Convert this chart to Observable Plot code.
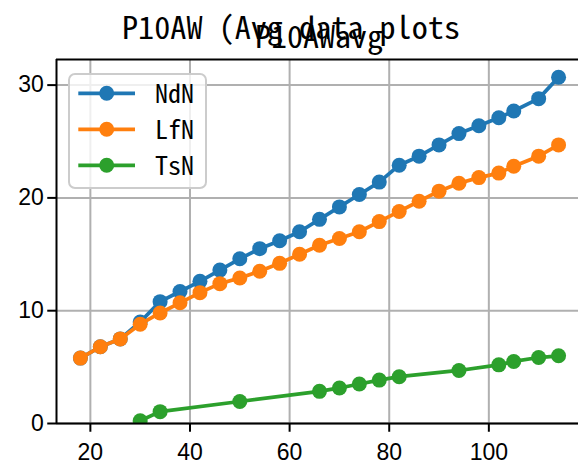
<!DOCTYPE html>
<html>
<head>
<meta charset="utf-8">
<script src="https://cdn.jsdelivr.net/npm/d3@7"></script>
<script src="https://cdn.jsdelivr.net/npm/@observablehq/plot@0.6"></script>
<style>
  html, body { margin: 0; padding: 0; background: #fff; overflow: hidden; }
  #wrap { position: relative; width: 578px; height: 465px; }
  svg { display: block; }
</style>
</head>
<body>
<div id="wrap">
  <svg id="titles" width="578" height="56"></svg>
  <div id="chart"></div>
</div>
<script>
const supTitle = "P10AW (Avg data plots";
const axTitle = "P10AWavg";
const seriesNames = ["NdN", "LfN", "TsN"];
const seriesColors = ["#1f77b4", "#ff7f0e", "#2ca02c"];

const xNdN = [18,22,26,30,34,38,42,46,50,54,58,62,66,70,74,78,82,86,90,94,98,102,105,110,114];
const yNdN = [5.8,6.8,7.5,9.0,10.8,11.7,12.6,13.6,14.6,15.5,16.2,17.0,18.1,19.2,20.3,21.4,22.9,23.7,24.7,25.7,26.4,27.1,27.7,28.8,30.7];
const xLfN = [18,22,26,30,34,38,42,46,50,54,58,62,66,70,74,78,82,86,90,94,98,102,105,110,114];
const yLfN = [5.8,6.8,7.5,8.8,9.8,10.7,11.6,12.4,12.9,13.5,14.2,15.0,15.8,16.4,17.0,17.9,18.8,19.7,20.6,21.3,21.8,22.2,22.8,23.7,24.7];
const xTsN = [30,34,50,66,70,74,78,82,94,102,105,110,114];
const yTsN = [0.25,1.05,1.95,2.85,3.15,3.5,3.85,4.15,4.7,5.2,5.5,5.85,6.0];

const xTicks = [20,40,60,80,100];
const yTicks = [0,10,20,30];
const xDomain = [13.2, 118];
const yDomain = [0, 32.27];

const font = '"Noto Sans Mono CJK SC", "Noto Sans CJK SC", "DejaVu Sans Mono", monospace';
const tickFont = '"Liberation Sans", Arial, sans-serif';

const xs = [xNdN, xLfN, xTsN];
const ys = [yNdN, yLfN, yTsN];
const series = seriesNames.map((name, i) => ({
  name, color: seriesColors[i],
  data: xs[i].map((x, j) => ({x, y: ys[i][j]}))
}));

// titles (figure suptitle + axes title, overlapping as in the reference)
const ts = d3.select("#titles").attr("font-family", font).attr("fill", "#000");
ts.append("text").attr("x", 291).attr("y", 39).attr("text-anchor", "middle")
  .attr("font-size", 31).attr("textLength", 338).attr("lengthAdjust", "spacingAndGlyphs").text(supTitle);
ts.append("text").attr("x", 319).attr("y", 47.5).attr("text-anchor", "middle")
  .attr("font-size", 31).attr("textLength", 128).attr("lengthAdjust", "spacingAndGlyphs").text(axTitle);

const marks = [
  Plot.gridX(xTicks, {stroke: "#b0b0b0", strokeOpacity: 1, strokeWidth: 2}),
  Plot.gridY(yTicks, {stroke: "#b0b0b0", strokeOpacity: 1, strokeWidth: 2}),
];
for (const s of series) {
  marks.push(Plot.line(s.data, {x: "x", y: "y", stroke: s.color, strokeWidth: 3.75, clip: true}));
  marks.push(Plot.dot(s.data, {x: "x", y: "y", r: 7.5, fill: s.color, stroke: "none", clip: true}));
}
marks.push(
  Plot.ruleY([yDomain[0]], {stroke: "#000", strokeWidth: 2}),
  Plot.ruleY([yDomain[1]], {stroke: "#000", strokeWidth: 2}),
  Plot.ruleX([xDomain[0]], {stroke: "#000", strokeWidth: 2}),
  Plot.axisX(xTicks, {tickSize: 8.75, tickPadding: 11, strokeWidth: 2, fontSize: 23, fontFamily: tickFont, label: null}),
  Plot.axisY(yTicks, {tickSize: 8.75, tickPadding: 4, strokeWidth: 2, fontSize: 23, fontFamily: tickFont, label: null})
);

const chart = Plot.plot({
  width: 578, height: 409,
  marginLeft: 56, marginRight: 0, marginTop: 3, marginBottom: 42,
  x: {domain: xDomain},
  y: {domain: yDomain},
  style: {fontFamily: tickFont, fontSize: "23px", color: "#000", background: "#fff", overflow: "visible"},
  marks
});
document.getElementById("chart").appendChild(chart);

// legend (upper left, inside the axes)
const svg = d3.select(chart);
const lg = svg.append("g").attr("font-family", font).attr("font-size", 26).attr("text-anchor", "start");
lg.append("rect").attr("x", 69).attr("y", 18).attr("width", 137).attr("height", 114)
  .attr("rx", 6).attr("fill", "#fff").attr("fill-opacity", 0.8)
  .attr("stroke", "#cccccc").attr("stroke-width", 2);
series.forEach((s, i) => {
  const cy = 37.3 + i * 36;
  lg.append("line").attr("x1", 78.3).attr("x2", 135).attr("y1", cy).attr("y2", cy)
    .attr("stroke", s.color).attr("stroke-width", 3.75);
  lg.append("circle").attr("cx", 106.7).attr("cy", cy).attr("r", 7.5).attr("fill", s.color);
  lg.append("text").attr("x", 155).attr("y", cy).attr("dy", "0.36em").attr("fill", "#000")
    .attr("text-anchor", "start")
    .attr("textLength", 39).attr("lengthAdjust", "spacingAndGlyphs").text(s.name);
});
</script>
</body>
</html>
